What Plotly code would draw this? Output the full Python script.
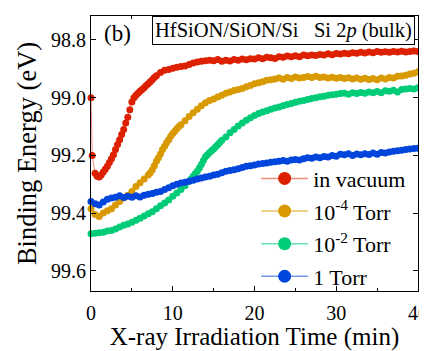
import plotly.graph_objects as go

# ---------------- data ----------------
red_t = [0, 0.15, 0.5, 0.75, 1.0, 1.25, 1.5, 1.75, 2.0, 2.25, 2.5, 2.75, 3.0, 3.25, 3.5, 3.75, 4.0, 4.25, 4.5,
         4.75, 5.0, 5.25, 5.5, 5.75, 6.0, 6.25, 6.5, 6.75, 7.0, 7.25, 7.5, 7.75, 8.0, 8.5, 9.0, 9.5,
         10.0, 10.5, 11.0, 11.5, 12.0, 12.5, 13.0, 13.5, 14.0, 14.5, 15.0, 15.5, 16.0, 16.5, 17.0, 17.5, 18.0, 18.5,
         19.0, 19.5, 20.0, 20.5, 21.0, 21.5, 22.0, 22.5, 23.0, 23.5, 24.0, 24.5, 25.0, 25.5, 26.0, 26.5, 27.0, 27.5,
         28.0, 28.5, 29.0, 29.5, 30.0, 30.5, 31.0, 31.5, 32.0, 32.5, 33.0, 33.5, 34.0, 34.5, 35.0, 35.5, 36.0, 36.5,
         37.0, 37.5, 38.0, 38.5, 39.0, 39.5, 40.0]
red_e = [99.000, 99.200, 99.262, 99.272, 99.275, 99.268, 99.258, 99.248, 99.238, 99.225, 99.212, 99.198, 99.180,
         99.162, 99.146, 99.128, 99.110, 99.088, 99.068, 99.042, 99.015, 99.000, 98.992, 98.985, 98.978, 98.972,
         98.966, 98.958, 98.952, 98.945, 98.938, 98.930, 98.924, 98.913, 98.905, 98.902,
         98.898, 98.895, 98.892, 98.890, 98.885,
         98.880, 98.876, 98.874, 98.872, 98.870, 98.872, 98.868, 98.874, 98.870, 98.873, 98.868, 98.870, 98.866,
         98.869, 98.865, 98.866, 98.862, 98.865, 98.860, 98.862, 98.864, 98.858, 98.860, 98.856, 98.858, 98.855,
         98.858, 98.852, 98.855, 98.852, 98.854, 98.850, 98.852, 98.848, 98.851, 98.847, 98.849, 98.846, 98.848,
         98.844, 98.846, 98.843, 98.845, 98.842, 98.844, 98.840, 98.843, 98.841, 98.843, 98.840, 98.842, 98.839,
         98.842, 98.840, 98.838, 98.840]

orange_t = [0, 0.5, 1.0, 1.5, 2.0, 2.5, 3.0, 3.5, 4.0, 4.5, 5.0, 5.5, 6.0, 6.5, 7.0, 7.25, 7.5, 7.75, 8.0,
            8.25, 8.5, 8.75, 9.0, 9.25, 9.5, 9.75, 10.0, 10.25, 10.5, 10.75, 11.0, 11.5, 12.0, 12.5, 13.0,
            13.5, 14.0, 14.5, 15.0, 15.5, 16.0, 16.5, 17.0, 17.5, 18.0, 18.5, 19.0, 19.5, 20.0, 20.5, 21.0,
            21.5, 22.0, 22.5, 23.0, 23.5, 24.0, 24.5, 25.0, 25.5, 26.0, 26.5, 27.0, 27.5, 28.0, 28.5, 29.0,
            29.5, 30.0, 30.5, 31.0, 31.5, 32.0, 32.5, 33.0, 33.5, 34.0, 34.5, 35.0, 35.5, 36.0, 36.5, 37.0,
            37.5, 38.0, 38.5, 39.0, 39.5, 40.0]
orange_e = [99.385, 99.405, 99.412, 99.400, 99.392, 99.385, 99.372, 99.360, 99.348, 99.338, 99.325, 99.308,
            99.295, 99.282, 99.268, 99.260, 99.250, 99.236, 99.220, 99.208, 99.195, 99.180, 99.168, 99.156,
            99.146, 99.134, 99.124, 99.116, 99.108, 99.100, 99.094, 99.080,
            99.065, 99.052, 99.040, 99.028, 99.018, 99.010, 99.005, 98.998, 98.992, 98.985, 98.980, 98.975,
            98.972, 98.968, 98.962, 98.958, 98.952, 98.948, 98.945, 98.940, 98.938, 98.935, 98.932, 98.936,
            98.930, 98.934, 98.928, 98.932, 98.930, 98.927, 98.930, 98.926, 98.930, 98.928, 98.932, 98.929,
            98.933, 98.930, 98.934, 98.931, 98.935, 98.932, 98.936, 98.933, 98.937, 98.934, 98.938, 98.932,
            98.935, 98.930, 98.932, 98.926, 98.925, 98.922, 98.918, 98.915, 98.910]

green_t = [0, 0.5, 1.0, 1.5, 2.0, 2.5, 3.0, 3.5, 4.0, 4.5, 5.0, 5.5, 6.0, 6.5, 7.0, 7.5, 8.0, 8.5, 9.0, 9.5,
           10.0, 10.5, 11.0, 11.5, 12.0, 12.25, 12.5, 12.75, 13.0, 13.25, 13.5, 13.75, 14.0, 14.25, 14.5, 14.75,
           15.0, 15.25, 15.5, 15.75, 16.0, 16.5, 17.0, 17.5, 18.0, 18.5,
           19.0, 19.5, 20.0, 20.5, 21.0, 21.5, 22.0, 22.5, 23.0, 23.5, 24.0, 24.5, 25.0, 25.5, 26.0, 26.5, 27.0, 27.5,
           28.0, 28.5, 29.0, 29.5, 30.0, 30.5, 31.0, 31.5, 32.0, 32.5, 33.0, 33.5, 34.0, 34.5, 35.0, 35.5, 36.0, 36.5,
           37.0, 37.5, 38.0, 38.5, 39.0, 39.5, 40.0]
green_e = [99.472, 99.470, 99.468, 99.466, 99.462, 99.460, 99.455, 99.448, 99.442, 99.438, 99.432, 99.425,
           99.418, 99.410, 99.402, 99.395, 99.385, 99.375, 99.365, 99.355, 99.342, 99.330, 99.318, 99.305,
           99.290, 99.282, 99.272, 99.264, 99.255, 99.244, 99.232, 99.218, 99.205, 99.198, 99.190, 99.184,
           99.178, 99.170, 99.163, 99.155, 99.148, 99.136, 99.122, 99.110,
           99.098, 99.088, 99.078, 99.070, 99.062, 99.055, 99.050, 99.045, 99.040, 99.036, 99.032, 99.028,
           99.024, 99.020, 99.016, 99.012, 99.010, 99.006, 99.003, 99.000, 98.997, 98.995, 98.992, 98.990,
           98.988, 98.986, 98.985, 98.988, 98.983, 98.986, 98.982, 98.985, 98.980, 98.983, 98.979, 98.983,
           98.976, 98.978, 98.974, 98.980, 98.972, 98.970, 98.968, 98.970, 98.966]

blue_t = [0, 0.5, 1.0, 1.5, 2.0, 2.5, 3.0, 3.5, 4.0, 4.5, 5.0, 5.5, 6.0, 6.5, 7.0, 7.5, 8.0, 8.5, 9.0, 9.5,
          10.0, 10.5, 11.0, 11.5, 12.0, 12.5, 13.0, 13.5, 14.0, 14.5, 15.0, 15.5, 16.0, 16.5, 17.0, 17.5, 18.0, 18.5,
          19.0, 19.5, 20.0, 20.5, 21.0, 21.5, 22.0, 22.5, 23.0, 23.5, 24.0, 24.5, 25.0, 25.5, 26.0, 26.5, 27.0, 27.5,
          28.0, 28.5, 29.0, 29.5, 30.0, 30.5, 31.0, 31.5, 32.0, 32.5, 33.0, 33.5, 34.0, 34.5, 35.0, 35.5, 36.0, 36.5,
          37.0, 37.5, 38.0, 38.5, 39.0, 39.5, 40.0]
blue_e = [99.360, 99.368, 99.372, 99.362, 99.352, 99.348, 99.345, 99.340, 99.346, 99.342, 99.345, 99.340,
          99.344, 99.338, 99.335, 99.332, 99.328, 99.325, 99.318, 99.312, 99.305, 99.300, 99.296, 99.293,
          99.290, 99.286, 99.282, 99.278, 99.275, 99.272, 99.268, 99.265, 99.260, 99.255, 99.252, 99.250,
          99.246, 99.242, 99.238, 99.236, 99.233, 99.230, 99.228, 99.226, 99.224, 99.222, 99.220, 99.218,
          99.220, 99.216, 99.214, 99.216, 99.212, 99.208, 99.210, 99.206, 99.208, 99.204, 99.206, 99.200,
          99.203, 99.196, 99.198, 99.194, 99.200, 99.195, 99.198, 99.194, 99.197, 99.192, 99.196, 99.190,
          99.192, 99.188, 99.186, 99.184, 99.182, 99.180, 99.178, 99.176, 99.175]

series_names = ["in vacuum", "10<sup>-4</sup> Torr", "10<sup>-2</sup> Torr", "1 Torr"]
x_ticks = [0, 10, 20, 30, 40]
y_ticks = [98.8, 99.0, 99.2, 99.4, 99.6]

# ---------------- style ----------------
FONT = "Liberation Serif"
colors = ["#dc2000", "#d89a00", "#00cc78", "#0045dc"]
line_colors = ["rgba(220,32,0,0.5)", "rgba(216,154,0,0.6)", "rgba(0,204,120,0.6)", "rgba(0,69,220,0.55)"]

fig = go.Figure()
data = [(red_t, red_e), (orange_t, orange_e), (green_t, green_e), (blue_t, blue_e)]
for i, ((t, e), name, c, lc) in enumerate(zip(data, series_names, colors, line_colors)):
    fig.add_trace(go.Scatter(
        x=t, y=e, name=name, mode="lines+markers", showlegend=False,
        marker=dict(color=c, size=7, line=dict(width=0)),
        line=dict(color=lc, width=1),
        cliponaxis=False,
    ))
# legend entries (no data of their own)
for i, (name, c, lc) in enumerate(zip(series_names, colors, line_colors)):
    fig.add_trace(go.Scatter(
        x=[None], y=[None], name=name, mode="lines+markers", legendgroup=f"g{i}",
        marker=dict(color=c, size=13, line=dict(width=0)),
        line=dict(color=lc, width=1.5),
    ))

# the page body adds an 8px offset; the figure is sized to fill the rest of the window
fig.update_layout(
    width=419, height=343,
    margin=dict(l=83, r=9, t=8, b=60, autoexpand=False),
    paper_bgcolor="white", plot_bgcolor="white",
    font=dict(family=FONT, color="black", size=20),
    showlegend=True,
    legend=dict(
        x=0.505, y=0.485, xanchor="left", yanchor="top",
        bgcolor="rgba(0,0,0,0)", borderwidth=0,
        font=dict(family=FONT, size=22, color="black"),
        itemwidth=47,
        tracegroupgap=1,
    ),
)

fig.update_xaxes(
    range=[0, 40], tickvals=x_ticks, ticktext=[str(v) for v in x_ticks],
    ticks="inside", ticklen=5, tickwidth=1, tickcolor="black",
    minor=dict(dtick=5, ticks="inside", ticklen=3, tickcolor="black"),
    showline=True, linecolor="black", linewidth=1, mirror="ticks",
    showgrid=False, zeroline=False, automargin=False,
    tickfont=dict(family=FONT, size=20),
    ticklabelstandoff=4, ticklabeloverflow="allow",
    title=dict(text="X-ray Irradiation Time (min)", font=dict(family=FONT, size=25), standoff=7),
)
fig.update_yaxes(
    range=[99.670, 98.717], tickvals=y_ticks, ticktext=[f"{v:.1f}" for v in y_ticks],
    ticks="inside", ticklen=5, tickwidth=1, tickcolor="black",
    showline=True, linecolor="black", linewidth=1, mirror="ticks",
    showgrid=False, zeroline=False, automargin=False,
    tickfont=dict(family=FONT, size=20), ticklabeloverflow="allow",
    title=dict(text="Binding Energy (eV)", font=dict(family=FONT, size=26.5), standoff=6),
)

fig.add_annotation(
    text="(b)", xref="paper", yref="paper", x=0.08, y=0.935,
    xanchor="center", yanchor="middle", showarrow=False,
    font=dict(family=FONT, size=23, color="black"),
)
fig.add_annotation(
    text="HfSiON/SiON/Si   Si 2<i>p</i> (bulk)", xref="paper", yref="paper",
    x=0.99, y=1.0, xanchor="right", yanchor="top", showarrow=False,
    font=dict(family=FONT, size=20.5, color="black"),
    bordercolor="black", borderwidth=1, borderpad=2, bgcolor="white",
)

fig.write_html("out.html")
